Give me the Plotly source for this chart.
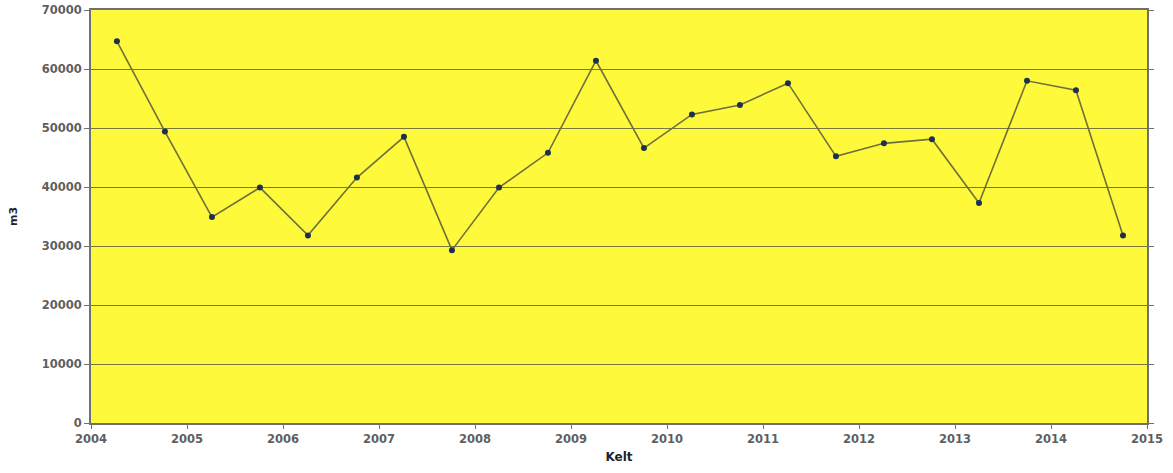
import plotly.graph_objects as go

# Half-yearly observation points (decimal years) and volumes in m3
years = [2004.27, 2004.77, 2005.26, 2005.76, 2006.26, 2006.77, 2007.26, 2007.76,
         2008.25, 2008.76, 2009.26, 2009.76, 2010.26, 2010.76, 2011.26, 2011.76,
         2012.26, 2012.76, 2013.25, 2013.75, 2014.26, 2014.75]
volumes = [64700, 49400, 34900, 39900, 31800, 41600, 48500, 29300,
           39900, 45800, 61400, 46600, 52300, 53900, 57600, 45200,
           47400, 48100, 37300, 58000, 56400, 31800]

x_ticks = list(range(2004, 2016))
y_ticks = [0, 10000, 20000, 30000, 40000, 50000, 60000, 70000]

tick_font = dict(family="DejaVu Sans, Arial, sans-serif", size=11.5, color="#5f5f5f")

fig = go.Figure()
fig.add_trace(go.Scatter(
    x=years, y=volumes, mode="lines+markers",
    line=dict(color="#6f6f3a", width=1.6),
    marker=dict(color="#1f2f4f", size=6),
    showlegend=False,
))

fig.update_layout(
    width=1173, height=473,
    margin=dict(l=91, r=26, t=10, b=50),
    paper_bgcolor="white",
    plot_bgcolor="#FFF93C",
    xaxis=dict(
        range=[2004, 2015], tickvals=x_ticks, ticktext=[f"<b>{t}</b>" for t in x_ticks],
        showgrid=False, zeroline=False, automargin=False,
        showline=True, linecolor="#707070", linewidth=2, mirror=True,
        ticks="outside", ticklen=4, tickcolor="#707070",
        tickfont=tick_font,
        title=dict(text="<b>Kelt</b>", standoff=8,
                   font=dict(family="DejaVu Sans, Arial, sans-serif", size=12, color="#222222")),
    ),
    yaxis=dict(
        range=[0, 70000], tickvals=y_ticks, ticktext=[f"<b>{t}</b>" for t in y_ticks],
        showgrid=True, gridcolor="#77773e", gridwidth=1.3, zeroline=False, automargin=False,
        showline=True, linecolor="#707070", linewidth=2, mirror="ticks",
        ticks="outside", ticklen=5, tickcolor="#707070",
        tickfont=tick_font,
        title=dict(text="<b>m3</b>", standoff=22,
                   font=dict(family="DejaVu Sans, Arial, sans-serif", size=11, color="#222222")),
    ),
)

fig.write_html("out.html")
